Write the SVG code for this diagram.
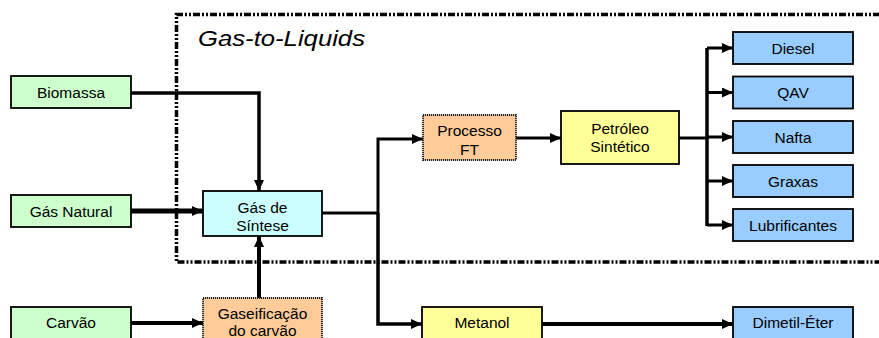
<svg xmlns="http://www.w3.org/2000/svg" width="879" height="338" viewBox="0 0 879 338">
<defs>
<marker id="arr" markerUnits="userSpaceOnUse" markerWidth="12" markerHeight="10" refX="11" refY="5" orient="auto"><path d="M0,0 L11,5 L0,10 Z" fill="#000"/></marker>
<style>
.n rect{stroke:#000;stroke-width:1.8}
.dot rect{stroke:#222;stroke-width:1.8;stroke-dasharray:1.2 0.8}
.g rect{fill:#CCFFCC}
.c rect{fill:#CCFFFF}
.o rect{fill:#FFCC99}
.y rect{fill:#FFFF99}
.b rect{fill:#99CCFF}
text{font-family:"Liberation Sans",Arial,sans-serif;font-size:15.5px;fill:#000;text-anchor:middle}
.con path{fill:none;stroke:#000;stroke-linejoin:miter}
</style>
</defs>
<rect width="879" height="338" fill="#fff"/>
<g id="gtl-frame">
<path d="M880,14.5 H176.5 V262 H880" fill="none" stroke="#000" stroke-width="3.5" stroke-dasharray="7 2 2 2 2 2"/>
<text x="198" y="46" textLength="167" lengthAdjust="spacingAndGlyphs" style="font-size:22px;font-style:italic;text-anchor:start">Gas-to-Liquids</text>
</g>
<g class="con" id="connectors">
<path d="M131,93 H259 V191" stroke-width="3.5" marker-end="url(#arr)"/>
<path d="M131,211 H203" stroke-width="5" marker-end="url(#arr)"/>
<path d="M259,298 V236" stroke-width="4" marker-end="url(#arr)"/>
<path d="M131,323 H203" stroke-width="4" marker-end="url(#arr)"/>
<path d="M322,213 H378" stroke-width="3"/>
<path d="M378,213 V139 H423" stroke-width="3" marker-end="url(#arr)"/>
<path d="M378,213 V324 H422" stroke-width="3.5" marker-end="url(#arr)"/>
<path d="M516,138 H561" stroke-width="3" marker-end="url(#arr)"/>
<path d="M679,138 H707" stroke-width="3"/>
<path d="M707,48 V226" stroke-width="3.5"/>
<path d="M707,48 H733" stroke-width="3" marker-end="url(#arr)"/>
<path d="M707,92.5 H733" stroke-width="3" marker-end="url(#arr)"/>
<path d="M707,137 H733" stroke-width="3" marker-end="url(#arr)"/>
<path d="M707,181 H733" stroke-width="3" marker-end="url(#arr)"/>
<path d="M707,225 H733" stroke-width="3" marker-end="url(#arr)"/>
<path d="M542,324 H733" stroke-width="4" marker-end="url(#arr)"/>
</g>
<g id="biomassa" class="n g"><rect x="11" y="76" width="120" height="32"/><text x="71" y="97.5">Biomassa</text></g>
<g id="gas-natural" class="n g"><rect x="11" y="195" width="120" height="32"/><text x="71" y="216.5">Gás Natural</text></g>
<g id="carvao" class="n g"><rect x="11" y="307" width="120" height="32"/><text x="71" y="328">Carvão</text></g>
<g id="gas-sintese" class="n c"><rect x="203" y="191" width="119" height="45"/><text x="262.5" y="212.5">Gás de</text><text x="262.5" y="230.5">Síntese</text></g>
<g id="gaseificacao" class="dot o"><rect x="203" y="298" width="119" height="45"/><text x="262.5" y="318.5">Gaseificação</text><text x="262.5" y="336">do carvão</text></g>
<g id="processo-ft" class="dot o"><rect x="423" y="115" width="93" height="45"/><text x="469.5" y="136">Processo</text><text x="469.5" y="155">FT</text></g>
<g id="petroleo" class="n y"><rect x="561" y="111" width="118" height="53"/><text x="620" y="133.5">Petróleo</text><text x="620" y="151.5">Sintético</text></g>
<g id="metanol" class="n y"><rect x="422" y="307" width="120" height="32"/><text x="482" y="328">Metanol</text></g>
<g id="diesel" class="n b"><rect x="733" y="32" width="120" height="32"/><text x="793" y="53.5">Diesel</text></g>
<g id="qav" class="n b"><rect x="733" y="76.5" width="120" height="32"/><text x="793" y="98">QAV</text></g>
<g id="nafta" class="n b"><rect x="733" y="121" width="120" height="32"/><text x="793" y="142.5">Nafta</text></g>
<g id="graxas" class="n b"><rect x="733" y="165" width="120" height="32"/><text x="793" y="186.5">Graxas</text></g>
<g id="lubrificantes" class="n b"><rect x="733" y="209" width="120" height="32"/><text x="793" y="230.5">Lubrificantes</text></g>
<g id="dimetil-eter" class="n b"><rect x="733" y="307" width="120" height="32"/><text x="793" y="328">Dimetil-Éter</text></g>
</svg>
